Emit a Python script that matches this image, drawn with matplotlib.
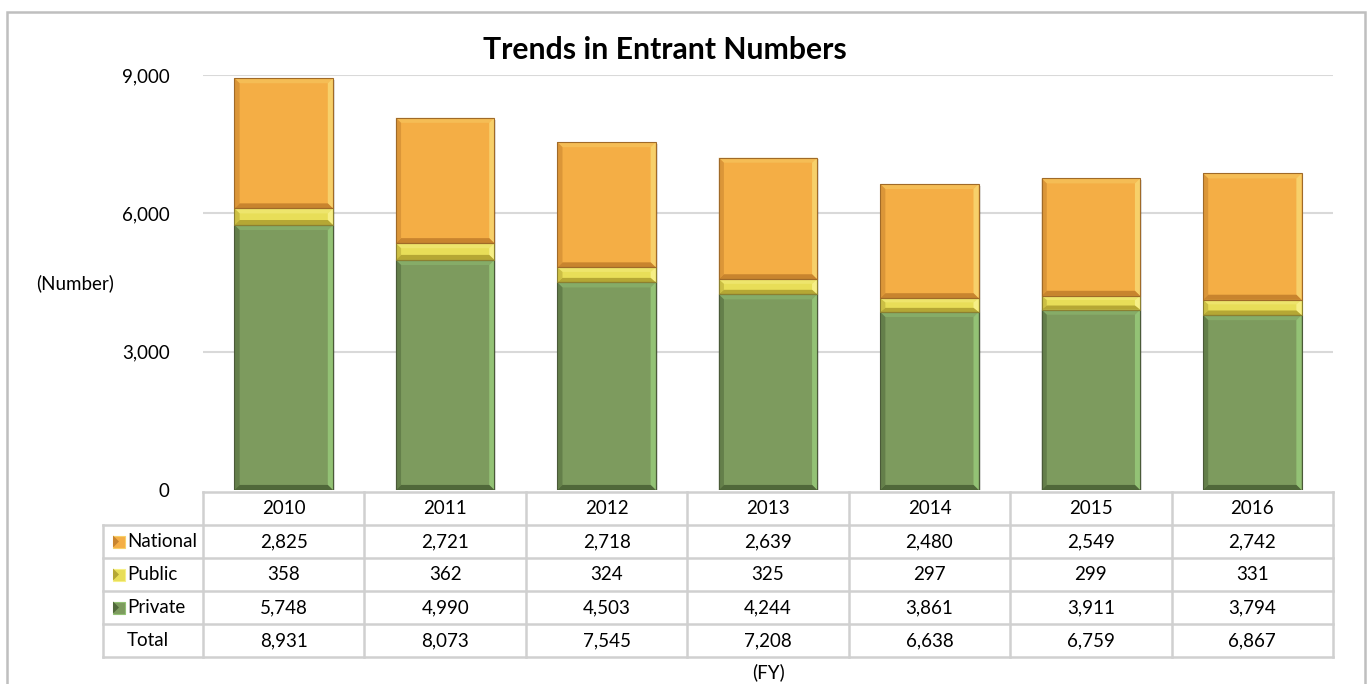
import matplotlib.pyplot as plt
from matplotlib.patches import Polygon, Rectangle
from matplotlib.lines import Line2D

years = ["2010", "2011", "2012", "2013", "2014", "2015", "2016"]
national = [2825, 2721, 2718, 2639, 2480, 2549, 2742]
public = [358, 362, 324, 325, 297, 299, 331]
private = [5748, 4990, 4503, 4244, 3861, 3911, 3794]
totals = [8931, 8073, 7545, 7208, 6638, 6759, 6867]

# face, light bevel, dark bevel, outline
palette = {
    "National": ("#F4AE45", "#F7D06A", "#C8842E", "#A06A28"),
    "Public": ("#E8DE58", "#F6EF86", "#B5A734", "#8C8030"),
    "Private": ("#7D9B5E", "#93C275", "#50683A", "#4A5A38"),
}

plt.rcParams["font.family"] = ["Lato", "DejaVu Sans"]
fs = 13.5

fig = plt.figure(figsize=(13.7, 6.84), dpi=100)
ax = fig.add_axes([203 / 1370, 1 - 490 / 684, 1130 / 1370, 415 / 684])
ax.set_xlim(-0.5, len(years) - 0.5)
ax.set_ylim(0, 9000)


def bevel_bar(x, bottom, height, width, cols, bx=0.032, by=110):
    face, light, dark, edge = cols
    l, r = x - width / 2, x + width / 2
    b, t = bottom, bottom + height
    by = min(by, height * 0.3)
    ax.add_patch(Rectangle((l + 0.012, b - 40), width, height, color="#000000",
                           alpha=0.12, lw=0, zorder=1))
    ax.add_patch(Rectangle((l, b), width, height, facecolor=face, lw=0, zorder=2))
    il, ir, ib, it = l + bx, r - bx, b + by, t - by
    ax.add_patch(Polygon([(l, t), (r, t), (ir, it), (il, it)], closed=True,
                         facecolor=light, alpha=0.45, lw=0, zorder=3))
    ax.add_patch(Polygon([(r, t), (r, b), (ir, ib), (ir, it)], closed=True,
                         facecolor=light, lw=0, zorder=3))
    ax.add_patch(Polygon([(l, b), (r, b), (ir, ib), (il, ib)], closed=True,
                         facecolor=dark, lw=0, zorder=3))
    ax.add_patch(Polygon([(l, t), (l, b), (il, ib), (il, it)], closed=True,
                         facecolor=dark, alpha=0.55, lw=0, zorder=3))
    ax.add_patch(Rectangle((l, b), width, height, fill=False, edgecolor=edge,
                           lw=0.8, zorder=4))


width = 0.61
for i in range(len(years)):
    bevel_bar(i, 0, private[i], width, palette["Private"])
    bevel_bar(i, private[i], public[i], width, palette["Public"])
    bevel_bar(i, private[i] + public[i], national[i], width, palette["National"])

for v in (3000, 6000, 9000):
    ax.axhline(v, color="#D9D9D9", lw=1.5, zorder=0)
for s in ax.spines.values():
    s.set_visible(False)
ax.set_xticks([])
ax.set_yticks([0, 3000, 6000, 9000])
ax.set_yticklabels(["0", "3,000", "6,000", "9,000"], fontsize=fs)
ax.tick_params(axis="y", length=0, pad=24)

# data table under the plot
n = len(years)
row_h = 33 / 415
top = -2 / 415
grid = "#D0D0D0"
x_left = -100 / 1130
trans = ax.transAxes


def hline(y, x0, x1):
    ax.add_line(Line2D([x0, x1], [y, y], transform=trans, color=grid, lw=1.8,
                       clip_on=False))


def vline(x, y0, y1):
    ax.add_line(Line2D([x, x], [y0, y1], transform=trans, color=grid, lw=1.8,
                       clip_on=False))


hline(top, 0, 1)
for k in range(1, 6):
    hline(top - k * row_h, x_left, 1)
vline(x_left, top - row_h, top - 5 * row_h)
for j in range(n + 1):
    vline(j / n, top, top - 5 * row_h)

rows = [("National", national), ("Public", public), ("Private", private),
        ("Total", totals)]
for j, yr in enumerate(years):
    ax.text((j + 0.5) / n, top - 0.5 * row_h, yr, transform=trans, ha="center",
            va="center", fontsize=fs)
for k, (name, vals) in enumerate(rows):
    yc = top - (k + 1.5) * row_h
    ax.text(x_left + 24 / 1130, yc, name, transform=trans, ha="left",
            va="center", fontsize=fs)
    if name in palette:
        face, light, dark, edge = palette[name]
        sx, sw = x_left + 10 / 1130, 12 / 1130
        sh = 12 / 415
        ax.add_patch(Rectangle((sx, yc - sh / 2), sw, sh, transform=trans,
                               facecolor=face, edgecolor=light, lw=0.8,
                               clip_on=False))
        ax.add_patch(Polygon([(sx, yc - sh / 2), (sx, yc + sh / 2),
                              (sx + sw / 2, yc)], closed=True, transform=trans,
                             facecolor=dark, lw=0, clip_on=False))
    for j, v in enumerate(vals):
        ax.text((j + 0.5) / n, yc, f"{v:,}", transform=trans, ha="center",
                va="center", fontsize=fs)

fig.text(665 / 1370, 1 - 50 / 684, "Trends in Entrant Numbers", ha="center",
         va="center", fontsize=21.7, fontweight="bold")
fig.text(75 / 1370, 1 - 283 / 684, "(Number)", ha="center", va="center",
         fontsize=fs)
fig.text(768 / 1370, 1 - 672 / 684, "(FY)", ha="center", va="center",
         fontsize=fs)

fig.add_artist(Rectangle((7 / 1370, -0.05), 1358 / 1370, 1.05 - 12 / 684,
                         transform=fig.transFigure, fill=False,
                         edgecolor="#BFBFBF", lw=1.8))

fig.savefig("out.png", dpi=100)
